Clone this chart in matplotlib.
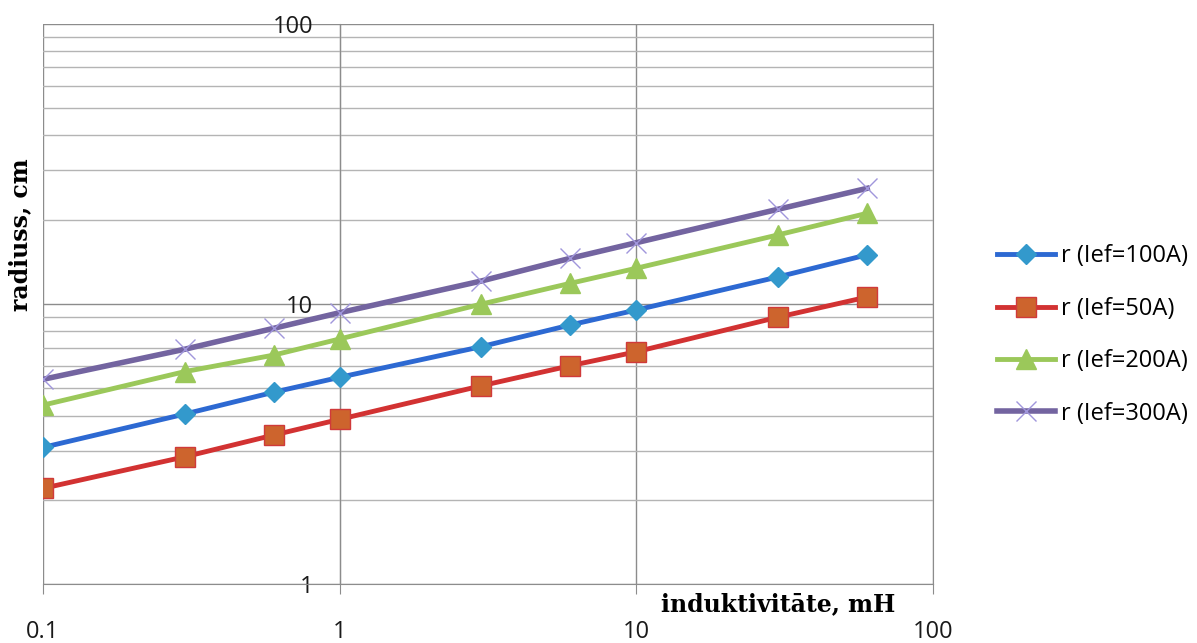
import numpy as np
import matplotlib
matplotlib.use("Agg")
import matplotlib.pyplot as plt
from matplotlib.ticker import FixedLocator, FixedFormatter, LogLocator, NullFormatter

# inductance, mH
induct = [0.1, 0.3, 0.6, 1, 3, 6, 10, 30, 60]

# radius, cm, for each effective current
r_100 = [3.08, 4.05, 4.85, 5.48, 7.05, 8.43, 9.53, 12.5, 15.0]
r_50 = [2.20, 2.85, 3.41, 3.88, 5.11, 6.03, 6.76, 8.98, 10.6]
r_200 = [4.36, 5.74, 6.58, 7.51, 10.0, 11.87, 13.43, 17.66, 21.1]
r_300 = [5.39, 6.90, 8.20, 9.32, 12.09, 14.58, 16.57, 21.8, 25.9]

labels = ["r (Ief=100A)", "r (Ief=50A)", "r (Ief=200A)", "r (Ief=300A)"]
x_ticks = [0.1, 1, 10, 100]
x_ticklabels = ["0.1", "1", "10", "100"]
y_ticks = [1, 10, 100]
y_ticklabels = ["1", "10", "100"]

plt.rcParams['font.family'] = ['Open Sans', 'DejaVu Sans']

fig = plt.figure(figsize=(11.97, 6.43), dpi=100)
ax = fig.add_axes([0.0359, 0.0913, 0.7435, 0.8714])

ax.plot(induct, r_100, color="#2d69d2", lw=3.5, marker="D", ms=10,
        mfc="#3399cc", mec="#3399cc", label=labels[0], zorder=3)
ax.plot(induct, r_50, color="#d23232", lw=3.5, marker="s", ms=14,
        mfc="#cd642d", mec="#d03a3a", mew=1, label=labels[1], zorder=3)
ax.plot(induct, r_200, color="#9bc85a", lw=3.5, marker="^", ms=15,
        mfc="#9bc85a", mec="#9bc85a", label=labels[2], zorder=3)
ax.plot(induct, r_300, color="#7364a0", lw=4, marker="x", ms=15,
        mec="#a096dc", mew=1, label=labels[3], zorder=3)

ax.set_xscale("log")
ax.set_yscale("log")
ax.set_xlim(0.1, 100)
ax.set_ylim(1, 100)

ax.xaxis.set_major_locator(FixedLocator(x_ticks))
ax.xaxis.set_major_formatter(FixedFormatter(x_ticklabels))
ax.xaxis.set_minor_locator(FixedLocator([]))
ax.yaxis.set_major_locator(FixedLocator(y_ticks))
ax.yaxis.set_major_formatter(FixedFormatter(y_ticklabels))
ax.yaxis.set_minor_locator(LogLocator(base=10, subs=np.arange(2, 10)))
ax.yaxis.set_minor_formatter(NullFormatter())

ax.grid(True, which="major", color="#8c8c8c", lw=1)
ax.grid(True, which="minor", axis="y", color="#b4b4b4", lw=1)
ax.set_axisbelow(True)

# vertical axis crosses at x = 1
ax.spines["left"].set_position(("data", 1))
for s in ax.spines.values():
    s.set_color("#8c8c8c")
ax.spines["top"].set_visible(False)

ax.tick_params(axis="x", which="major", length=7, color="#8c8c8c",
               pad=19, labelsize=17, labelcolor="#1a1a1a")
ax.tick_params(axis="y", which="both", length=0, pad=19,
               labelsize=17, labelcolor="#1a1a1a")

lab_font = dict(family="DejaVu Serif", weight="bold", size=17)
fig.text(778 / 1197, 1 - 604 / 643, "induktivitāte, mH", ha="center",
         va="center", **lab_font)
fig.text(20 / 1197, 1 - 235 / 643, "radiuss, cm", rotation=90, ha="center",
         va="center", **lab_font)

fig.legend(loc="center left", bbox_to_anchor=(997 / 1197, 1 - 335 / 643),
           frameon=False, borderpad=0, borderaxespad=0, fontsize=17,
           handlelength=2.45, handletextpad=0.25, labelspacing=1.2)

fig.savefig("out.png", dpi=100)
